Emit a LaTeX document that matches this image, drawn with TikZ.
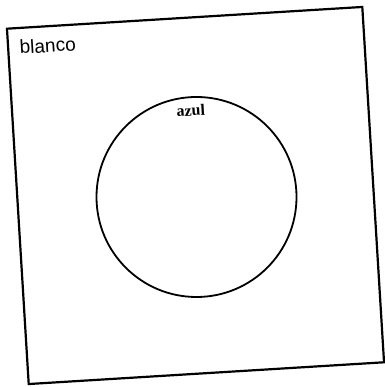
\documentclass[tikz,border=0pt]{standalone}
\usepackage{fontspec}
\setmainfont{Liberation Serif}
\newfontfamily\etiqsans{Liberation Sans}
\begin{document}
\begin{tikzpicture}[x=1pt,y=1pt,
  hoja/.style={draw=black, line width=2.2pt, rectangle, minimum size=356pt, inner sep=0pt, outer sep=0pt, rotate=3.5},
  disco/.style={draw=black, line width=1.8pt, circle, minimum size=200pt, inner sep=0pt, outer sep=0pt},
  etiq/.style={inner sep=0pt, rotate=3.5}]
\useasboundingbox (0,0) rectangle (384,387);
\node[hoja] (papel) at (195.5,191.5) {};
\node[disco] (circulo) at (196.5,190) {};
\node[etiq, anchor=base west, font=\etiqsans\fontsize{19}{19}\selectfont] (blanco) at (20,333) {blanco};
\node[etiq, anchor=base, font=\bfseries\fontsize{16}{16}\selectfont] (azul) at (191,271) {azul};
\end{tikzpicture}
\end{document}
